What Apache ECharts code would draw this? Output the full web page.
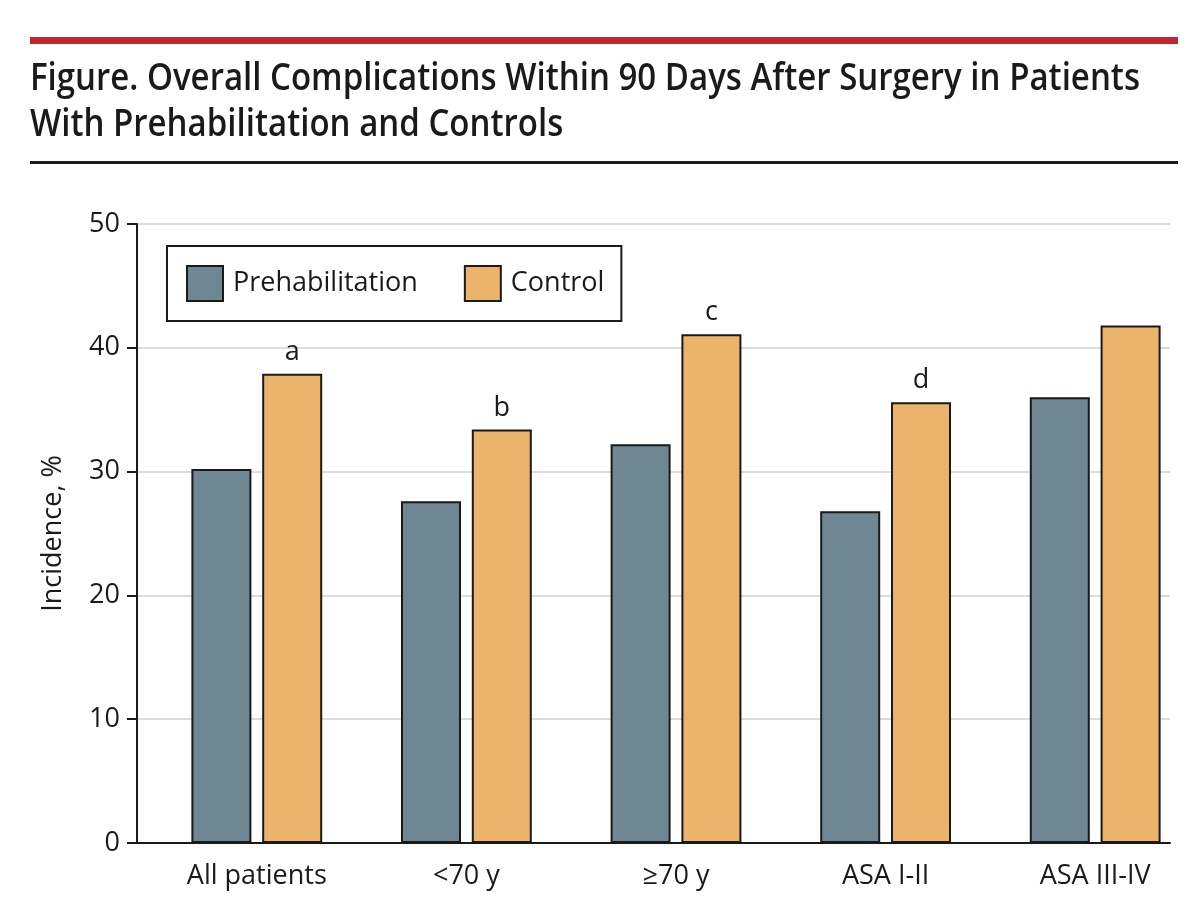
<!DOCTYPE html>
<html>
<head>
<meta charset="utf-8">
<script src="https://cdn.jsdelivr.net/npm/echarts@6/dist/echarts.min.js"></script>
<style>
  html, body { margin: 0; padding: 0; background: #fff; }
  #chart { width: 1200px; height: 901px; }
</style>
</head>
<body>
<div id="chart"></div>
<script>
const categories = ['All patients', '<70 y', '≥70 y', 'ASA I-II', 'ASA III-IV']
const prehabValues = [30.2, 27.6, 32.2, 26.8, 36.0]
const controlValues = [37.9, 33.4, 41.1, 35.6, 41.8]
const controlNotes = ['a', 'b', 'c', 'd', '']
const seriesNames = ['Prehabilitation', 'Control']
const yTicks = [0, 10, 20, 30, 40, 50]
const titleLines = [
    'Figure. Overall Complications Within 90 Days After Surgery in Patients',
    'With Prehabilitation and Controls'
]

const FONT = '"Open Sans", sans-serif'
const TITLE_FONT = '600 38px "Open Sans", sans-serif'
const PREHAB_COLOR = '#6e8792'
const CONTROL_COLOR = '#ecb36a'

// the original title face is condensed; squeeze the first line to its width
const measureCtx = document.createElement('canvas').getContext('2d')
measureCtx.font = TITLE_FONT
const titleScale = 1110 / measureCtx.measureText(titleLines[0]).width

let myChart = echarts.init(document.getElementById('chart'), null, { renderer: 'canvas' })

const option = {
    backgroundColor: '#fff',
    animation: false,
    textStyle: { fontFamily: FONT, color: '#1a1a1a' },
    graphic: [
        // red bar on top and the rule under the title
        { type: 'rect', left: 30, top: 37, shape: { width: 1148, height: 7 }, style: { fill: '#c0272d' } },
        { type: 'rect', left: 30, top: 161, shape: { width: 1148, height: 3 }, style: { fill: '#1a1a1a' } },
        {
            type: 'text', x: 30, y: 79, scaleX: titleScale,
            style: { text: titleLines[0], font: TITLE_FONT, fill: '#1a1a1a', verticalAlign: 'middle' }
        },
        {
            type: 'text', x: 30, y: 125, scaleX: titleScale,
            style: { text: titleLines[1], font: TITLE_FONT, fill: '#1a1a1a', verticalAlign: 'middle' }
        }
    ],
    legend: {
        data: seriesNames,
        left: 167,
        top: 246,
        orient: 'horizontal',
        icon: 'rect',
        itemWidth: 36,
        itemHeight: 35,
        itemGap: 46,
        padding: [19, 17, 19, 19],
        borderColor: '#1a1a1a',
        borderWidth: 2,
        textStyle: { fontFamily: FONT, fontSize: 27, color: '#1a1a1a', padding: [4, 0, 0, 5] }
    },
    grid: [
        // frame: axes + gridlines
        { left: 137, right: 30, top: 224, bottom: 58 },
        // bars: category slots are wider than the frame
        { left: 152, right: -10, top: 224, bottom: 58 }
    ],
    xAxis: [
        {
            gridIndex: 0,
            type: 'category',
            data: categories,
            axisLine: { lineStyle: { color: '#1a1a1a', width: 2 } },
            axisTick: { show: false },
            axisLabel: { show: false },
            splitLine: { show: false }
        },
        {
            gridIndex: 1,
            type: 'category',
            data: categories,
            axisLine: { show: false },
            axisTick: { show: false },
            axisLabel: { fontFamily: FONT, fontSize: 27, color: '#1a1a1a', margin: 20 },
            splitLine: { show: false }
        }
    ],
    yAxis: [
        {
            gridIndex: 0,
            type: 'value',
            min: yTicks[0],
            max: yTicks[yTicks.length - 1],
            interval: 10,
            name: 'Incidence, %',
            nameLocation: 'middle',
            nameGap: 70,
            nameTextStyle: { fontFamily: FONT, fontSize: 27, color: '#1a1a1a' },
            axisLine: { show: true, lineStyle: { color: '#1a1a1a', width: 2 } },
            axisTick: { show: true, length: 10, lineStyle: { color: '#1a1a1a', width: 2 } },
            axisLabel: { fontFamily: FONT, fontSize: 27, color: '#1a1a1a', margin: 17 },
            splitLine: { show: true, lineStyle: { color: '#dcdcdc', width: 2 } }
        },
        {
            gridIndex: 1,
            type: 'value',
            min: yTicks[0],
            max: yTicks[yTicks.length - 1],
            interval: 10,
            show: false,
            splitLine: { show: false }
        }
    ],
    series: [
        {
            name: seriesNames[0],
            type: 'bar',
            xAxisIndex: 1,
            yAxisIndex: 1,
            data: prehabValues,
            barWidth: 60,
            barGap: '18%',
            itemStyle: { color: PREHAB_COLOR, borderColor: '#1a1a1a', borderWidth: 2 }
        },
        {
            name: seriesNames[1],
            type: 'bar',
            xAxisIndex: 1,
            yAxisIndex: 1,
            data: controlValues,
            barWidth: 60,
            barGap: '18%',
            itemStyle: { color: CONTROL_COLOR, borderColor: '#1a1a1a', borderWidth: 2 },
            label: {
                show: true,
                position: 'top',
                distance: 8,
                fontFamily: FONT,
                fontSize: 27,
                color: '#1a1a1a',
                formatter: p => controlNotes[p.dataIndex]
            }
        }
    ]
}

myChart.setOption(option)
window.addEventListener('resize', function () {
    myChart.resize()
})
</script>
</body>
</html>
